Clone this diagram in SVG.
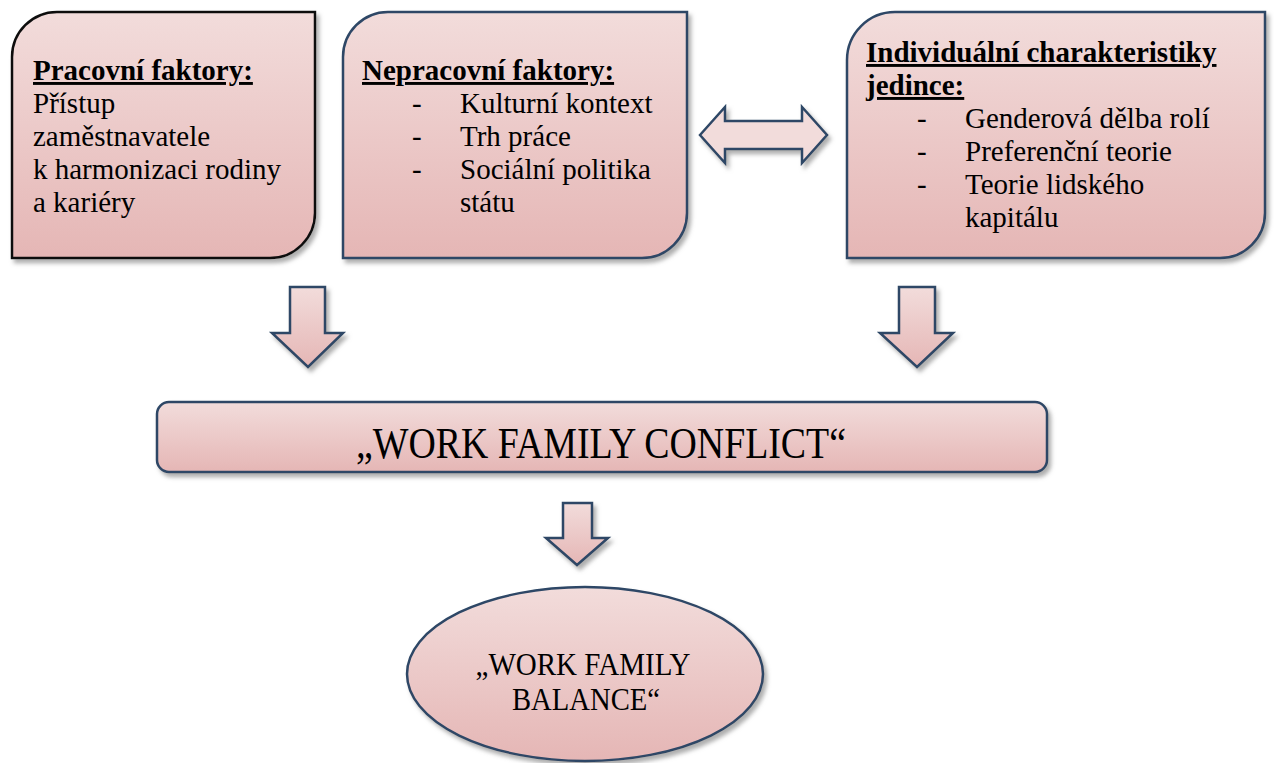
<svg xmlns="http://www.w3.org/2000/svg" width="1274" height="763" viewBox="0 0 1274 763">
  <defs>
    <linearGradient id="pinkFill" x1="0" y1="0" x2="0" y2="1">
      <stop offset="0" stop-color="#f2dcdb"/>
      <stop offset="1" stop-color="#e5b6b5"/>
    </linearGradient>
    <filter id="shadow" x="-10%" y="-10%" width="125%" height="130%">
      <feGaussianBlur in="SourceAlpha" stdDeviation="2"/>
      <feOffset dx="3" dy="4" result="off"/>
      <feFlood flood-color="#8c8c8c" flood-opacity="0.7"/>
      <feComposite in2="off" operator="in"/>
      <feMerge>
        <feMergeNode/>
        <feMergeNode in="SourceGraphic"/>
      </feMerge>
    </filter>
  </defs>
  <style>
    .box { fill: url(#pinkFill); stroke: #2d4766; stroke-width: 2.5; filter: url(#shadow); }
    .arrow { fill: url(#pinkFill); stroke: #2d4766; stroke-width: 2.5; stroke-linejoin: miter; filter: url(#shadow); }
    text { font-family: "Liberation Serif", "Times New Roman", serif; font-size: 29px; fill: #000; }
    .head { font-weight: bold; text-decoration: underline; }
  </style>

  <rect width="1274" height="763" fill="#ffffff"/>

  <!-- Work factors -->
  <g id="node-pracovni">
    <path class="box" style="stroke:#111111" d="M12,57 A45,45 0 0 1 57,12 L315,12 L315,213 A45,45 0 0 1 270,258 L12,258 Z"/>
    <text class="head" x="33" y="80">Pracovní faktory:</text>
    <text x="33" y="113">Přístup</text>
    <text x="33" y="146">zaměstnavatele</text>
    <text x="33" y="179">k harmonizaci rodiny</text>
    <text x="33" y="212">a kariéry</text>
  </g>

  <!-- Non-work factors -->
  <g id="node-nepracovni">
    <path class="box" d="M343,57 A45,45 0 0 1 388,12 L687,12 L687,213 A45,45 0 0 1 642,258 L343,258 Z"/>
    <text class="head" x="362" y="80">Nepracovní faktory:</text>
    <text x="412" y="113">-</text>
    <text x="460" y="113">Kulturní kontext</text>
    <text x="412" y="146">-</text>
    <text x="460" y="146">Trh práce</text>
    <text x="412" y="179">-</text>
    <text x="460" y="179">Sociální politika</text>
    <text x="460" y="212">státu</text>
  </g>

  <!-- Individual characteristics -->
  <g id="node-individualni">
    <path class="box" d="M847,60 A48,48 0 0 1 895,12 L1265,12 L1265,213 A45,45 0 0 1 1220,258 L847,258 Z"/>
    <text class="head" x="866" y="62">Individuální charakteristiky</text>
    <text class="head" x="866" y="95">jedince:</text>
    <text x="917" y="128">-</text>
    <text x="965" y="128">Genderová dělba rolí</text>
    <text x="917" y="161">-</text>
    <text x="965" y="161">Preferenční teorie</text>
    <text x="917" y="194">-</text>
    <text x="965" y="194">Teorie lidského</text>
    <text x="965" y="227">kapitálu</text>
  </g>

  <!-- Conflict bar -->
  <g id="node-conflict">
    <rect class="box" x="157" y="402" width="890" height="70" rx="12" ry="12"/>
    <text x="601" y="458" text-anchor="middle" style="font-size:44px" textLength="490" lengthAdjust="spacingAndGlyphs">„WORK FAMILY CONFLICT“</text>
  </g>

  <!-- Balance ellipse -->
  <g id="node-balance">
    <ellipse class="box" cx="585" cy="674" rx="178" ry="87"/>
    <text x="583" y="675" text-anchor="middle" style="font-size:31px" textLength="215" lengthAdjust="spacingAndGlyphs">„WORK FAMILY</text>
    <text x="586" y="710" text-anchor="middle" style="font-size:31px" textLength="148" lengthAdjust="spacingAndGlyphs">BALANCE“</text>
  </g>

  <!-- Block arrows -->
  <g id="connectors">
    <path class="arrow" style="fill:#f2dcdb" d="M700,135 L725,107 L725,121 L802,121 L802,107 L827,135 L802,163 L802,149 L725,149 L725,163 Z"/>
    <path class="arrow" d="M290,287 L325,287 L325,333 L343,333 L308,367 L272,333 L290,333 Z"/>
    <path class="arrow" d="M899,287 L935,287 L935,333 L953,333 L917,367 L880,333 L899,333 Z"/>
    <path class="arrow" d="M563,503 L592,503 L592,538 L608,538 L577,565 L546,538 L563,538 Z"/>
  </g>
</svg>
